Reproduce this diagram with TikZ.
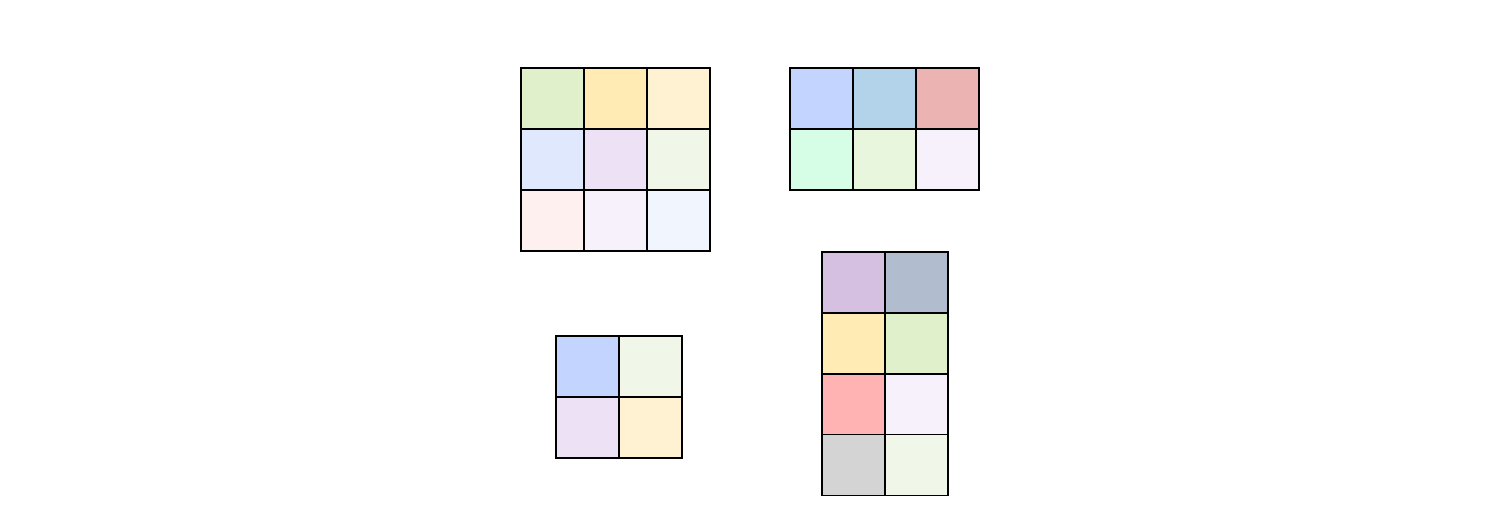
\documentclass[tikz,border=0pt]{standalone}
\begin{document}
\begin{tikzpicture}[x=1pt,y=-1pt,
  cell/.style={draw=black,line width=1.8pt,inner sep=0pt,outer sep=0pt,minimum width=63pt,minimum height=61pt}]
\useasboundingbox[fill=white] (0,0) rectangle (1500,530);
\definecolor{cA}{HTML}{DFF0CA}
\definecolor{cB}{HTML}{FFEBB3}
\definecolor{cC}{HTML}{FFF2D3}
\definecolor{cD}{HTML}{DFE8FD}
\definecolor{cE}{HTML}{EDE2F5}
\definecolor{cF}{HTML}{F1F7E8}
\definecolor{cG}{HTML}{FDF0EE}
\definecolor{cH}{HTML}{F6F1FB}
\definecolor{cI}{HTML}{F0F5FE}
\definecolor{cJ}{HTML}{C3D4FF}
\definecolor{cK}{HTML}{B3D3EA}
\definecolor{cL}{HTML}{EBB3B2}
\definecolor{cM}{HTML}{D6FEE6}
\definecolor{cN}{HTML}{E9F6DE}
\definecolor{cO}{HTML}{D5C0E2}
\definecolor{cP}{HTML}{B1BCCE}
\definecolor{cQ}{HTML}{FFB3B3}
\definecolor{cR}{HTML}{D5D4D5}
% grid 1
\node[cell,fill=cA] (g1a) at (552.5,98.5) {};
\node[cell,fill=cB] (g1b) at (615.5,98.5) {};
\node[cell,fill=cC] (g1c) at (678.5,98.5) {};
\node[cell,fill=cD] (g1d) at (552.5,159.5) {};
\node[cell,fill=cE] (g1e) at (615.5,159.5) {};
\node[cell,fill=cF] (g1f) at (678.5,159.5) {};
\node[cell,fill=cG] (g1g) at (552.5,220.5) {};
\node[cell,fill=cH] (g1h) at (615.5,220.5) {};
\node[cell,fill=cI] (g1i) at (678.5,220.5) {};
% grid 2
\node[cell,fill=cJ] (g2a) at (821.5,98.5) {};
\node[cell,fill=cK] (g2b) at (884.5,98.5) {};
\node[cell,fill=cL] (g2c) at (947.5,98.5) {};
\node[cell,fill=cM] (g2d) at (821.5,159.5) {};
\node[cell,fill=cN] (g2e) at (884.5,159.5) {};
\node[cell,fill=cH] (g2f) at (947.5,159.5) {};
% grid 3
\node[cell,fill=cJ] (g3a) at (587.5,366.5) {};
\node[cell,fill=cF] (g3b) at (650.5,366.5) {};
\node[cell,fill=cE] (g3c) at (587.5,427.5) {};
\node[cell,fill=cC] (g3d) at (650.5,427.5) {};
% grid 4
\node[cell,fill=cO] (g4a) at (853.5,282.5) {};
\node[cell,fill=cP] (g4b) at (916.5,282.5) {};
\node[cell,fill=cB] (g4c) at (853.5,343.5) {};
\node[cell,fill=cA] (g4d) at (916.5,343.5) {};
\node[cell,fill=cQ] (g4e) at (853.5,404.5) {};
\node[cell,fill=cH] (g4f) at (916.5,404.5) {};
\node[cell,fill=cR] (g4g) at (853.5,465) {};
\node[cell,fill=cF] (g4h) at (916.5,465) {};
\end{tikzpicture}
\end{document}
